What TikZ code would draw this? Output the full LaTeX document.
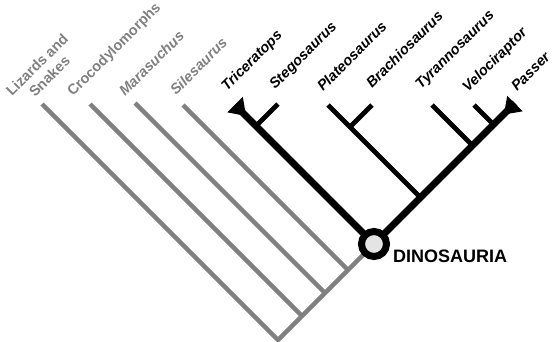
\documentclass[tikz,border=0pt]{standalone}
\usepackage{fontspec}
\setmainfont{Liberation Sans}
\definecolor{outgray}{RGB}{128,128,128}
\definecolor{nodefill}{RGB}{228,228,228}
\begin{document}
\begin{tikzpicture}[x=1pt,y=-1pt,
  graybr/.style={draw=outgray,line width=4.4pt,line cap=butt},
  mainbr/.style={draw=black,line width=7pt,line cap=butt},
  innerbr/.style={draw=black,line width=4.8pt,line cap=butt},
  tip/.style={fill=black},
  taxon/.style={rotate=45,anchor=base west,inner sep=0pt,font=\fontsize{14.5}{17}\selectfont\bfseries\itshape},
  grouplab/.style={rotate=45,anchor=base west,inner sep=0pt,font=\fontsize{14.5}{17}\selectfont\bfseries},
  cladelab/.style={anchor=base west,inner sep=0pt,font=\fontsize{18}{20}\selectfont\bfseries}]
\useasboundingbox (0,0) rectangle (552,341);
% key points
\coordinate (C) at (374,244);
\coordinate (R) at (278,340);
\coordinate (G1) at (302,316);
\coordinate (G2) at (325,293);
\coordinate (G3) at (348,270);
\coordinate (eLiz) at (42,104);
\coordinate (eCro) at (90,104);
\coordinate (eMar) at (135,103);
\coordinate (eSil) at (183,105);
\coordinate (B1) at (235,105);
\coordinate (B2) at (515,103);
\coordinate (J1) at (256,126);
\coordinate (eSte) at (278,104);
\coordinate (J2) at (420.5,197.5);
\coordinate (ePla) at (328,105);
\coordinate (J3) at (350,127);
\coordinate (eBra) at (372,105);
\coordinate (J4) at (472.5,145.5);
\coordinate (eTyr) at (432,105);
\coordinate (J5) at (493.5,124.5);
\coordinate (eVel) at (474,105);
% outgroups (gray)
\draw[graybr,line join=miter] (eLiz) -- (R) -- (C);
\draw[graybr] (G1) -- (eCro);
\draw[graybr] (G2) -- (eMar);
\draw[graybr] (G3) -- (eSil);
% dinosaurs (black)
\draw[mainbr] (C) -- (B1);
\draw[mainbr] (C) -- (B2);
\draw[innerbr] (J1) -- (eSte);
\draw[innerbr] (J2) -- (ePla);
\draw[innerbr] (J3) -- (eBra);
\draw[innerbr] (J4) -- (eTyr);
\draw[innerbr] (J5) -- (eVel);
% tips (triangles)
\fill[tip] (227.2,112.3) -- (242.8,96.7) -- (246,116) -- cycle;
\fill[tip] (507.2,95.7) -- (522.8,111.3) -- (504,114.5) -- cycle;
% Dinosauria node
\node[circle,draw=black,line width=7pt,fill=nodefill,minimum size=25pt,inner sep=0pt] (dino) at (C) {};
\node[cladelab] (dinolab) at (393,262) {DINOSAURIA};
% labels
\node[grouplab,text=outgray] (lLiz1) at (12,97) {Lizards and};
\node[grouplab,text=outgray] (lLiz2) at (35,98) {Snakes};
\node[grouplab,text=outgray] (lCro) at (73,97) {Crocodylomorphs};
\node[taxon,text=outgray] (lMar) at (125,97) {Marasuchus};
\node[taxon,text=outgray] (lSil) at (176,96) {Silesaurus};
\node[taxon] (lTri) at (227,92) {Triceratops};
\node[taxon] (lSte) at (275,90) {Stegosaurus};
\node[taxon] (lPla) at (323,92) {Plateosaurus};
\node[taxon] (lBra) at (372,89) {Brachiosaurus};
\node[taxon] (lTyr) at (421,90) {Tyrannosaurus};
\node[taxon] (lVel) at (468,93) {Velociraptor};
\node[taxon] (lPas) at (517,92) {Passer};
\end{tikzpicture}
\end{document}
